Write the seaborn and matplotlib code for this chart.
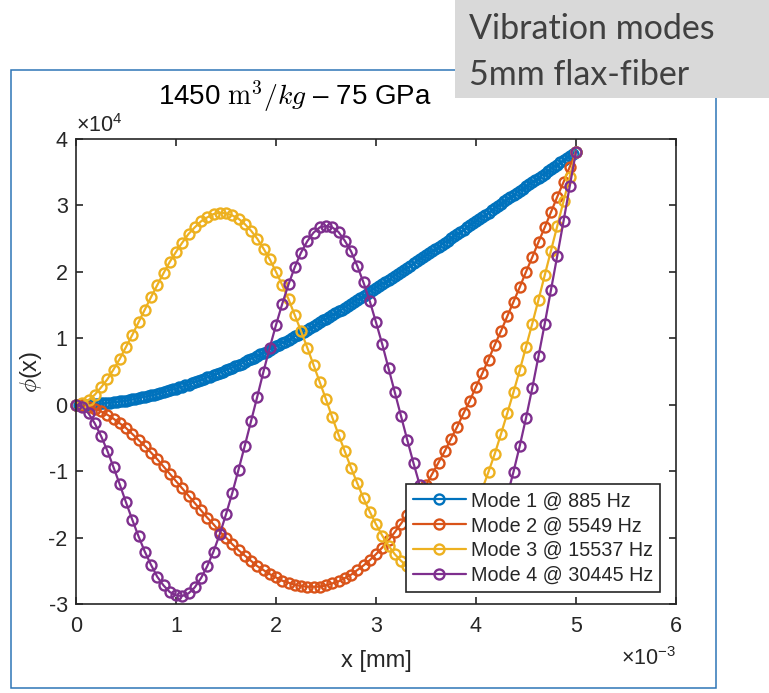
import matplotlib
matplotlib.use("Agg")
import matplotlib.pyplot as plt
from matplotlib.patches import Rectangle
import numpy as np
import pandas as pd
import seaborn as sns

# Sample positions along the fibre [mm] (modes 2-4)
x_mm = [0.0, 0.0625, 0.125, 0.1875, 0.25, 0.3125, 0.375, 0.4375, 0.5, 0.5625,
        0.625, 0.6875, 0.75, 0.8125, 0.875, 0.9375, 1.0, 1.0625, 1.125, 1.1875,
        1.25, 1.3125, 1.375, 1.4375, 1.5, 1.5625, 1.625, 1.6875, 1.75, 1.8125,
        1.875, 1.9375, 2.0, 2.0625, 2.125, 2.1875, 2.25, 2.3125, 2.375, 2.4375,
        2.5, 2.5625, 2.625, 2.6875, 2.75, 2.8125, 2.875, 2.9375, 3.0, 3.0625,
        3.125, 3.1875, 3.25, 3.3125, 3.375, 3.4375, 3.5, 3.5625, 3.625, 3.6875,
        3.75, 3.8125, 3.875, 3.9375, 4.0, 4.0625, 4.125, 4.1875, 4.25, 4.3125,
        4.375, 4.4375, 4.5, 4.5625, 4.625, 4.6875, 4.75, 4.8125, 4.875, 4.9375,
        5.0]

# Finer sample positions [mm] used for the fundamental mode
x_mm_fine = [
    0.0, 0.03125, 0.0625, 0.09375, 0.125, 0.15625, 0.1875, 0.21875,
    0.25, 0.28125, 0.3125, 0.34375, 0.375, 0.40625, 0.4375, 0.46875,
    0.5, 0.53125, 0.5625, 0.59375, 0.625, 0.65625, 0.6875, 0.71875,
    0.75, 0.78125, 0.8125, 0.84375, 0.875, 0.90625, 0.9375, 0.96875,
    1.0, 1.03125, 1.0625, 1.09375, 1.125, 1.15625, 1.1875, 1.21875,
    1.25, 1.28125, 1.3125, 1.34375, 1.375, 1.40625, 1.4375, 1.46875,
    1.5, 1.53125, 1.5625, 1.59375, 1.625, 1.65625, 1.6875, 1.71875,
    1.75, 1.78125, 1.8125, 1.84375, 1.875, 1.90625, 1.9375, 1.96875,
    2.0, 2.03125, 2.0625, 2.09375, 2.125, 2.15625, 2.1875, 2.21875,
    2.25, 2.28125, 2.3125, 2.34375, 2.375, 2.40625, 2.4375, 2.46875,
    2.5, 2.53125, 2.5625, 2.59375, 2.625, 2.65625, 2.6875, 2.71875,
    2.75, 2.78125, 2.8125, 2.84375, 2.875, 2.90625, 2.9375, 2.96875,
    3.0, 3.03125, 3.0625, 3.09375, 3.125, 3.15625, 3.1875, 3.21875,
    3.25, 3.28125, 3.3125, 3.34375, 3.375, 3.40625, 3.4375, 3.46875,
    3.5, 3.53125, 3.5625, 3.59375, 3.625, 3.65625, 3.6875, 3.71875,
    3.75, 3.78125, 3.8125, 3.84375, 3.875, 3.90625, 3.9375, 3.96875,
    4.0, 4.03125, 4.0625, 4.09375, 4.125, 4.15625, 4.1875, 4.21875,
    4.25, 4.28125, 4.3125, 4.34375, 4.375, 4.40625, 4.4375, 4.46875,
    4.5, 4.53125, 4.5625, 4.59375, 4.625, 4.65625, 4.6875, 4.71875,
    4.75, 4.78125, 4.8125, 4.84375, 4.875, 4.90625, 4.9375, 4.96875,
    5.0]

# Mode shapes phi(x) in units of 1e4
mode1 = [0.00, 0.00, 0.00, 0.00, 0.00, 0.01, 0.01, 0.01, 0.02, 0.02,
         0.03, 0.03, 0.04, 0.04, 0.05, 0.06, 0.06, 0.07, 0.08, 0.09,
         0.10, 0.11, 0.12, 0.13, 0.14, 0.15, 0.16, 0.18, 0.19, 0.20,
         0.22, 0.23, 0.24, 0.26, 0.27, 0.29, 0.30, 0.32, 0.34, 0.35,
         0.37, 0.39, 0.41, 0.42, 0.44, 0.46, 0.48, 0.50, 0.52, 0.54,
         0.56, 0.58, 0.60, 0.62, 0.65, 0.67, 0.69, 0.71, 0.73, 0.76,
         0.78, 0.80, 0.83, 0.85, 0.88, 0.90, 0.93, 0.95, 0.98, 1.00,
         1.03, 1.05, 1.08, 1.10, 1.13, 1.16, 1.18, 1.21, 1.24, 1.27,
         1.29, 1.32, 1.35, 1.38, 1.41, 1.43, 1.46, 1.49, 1.52, 1.55,
         1.58, 1.61, 1.64, 1.67, 1.70, 1.73, 1.76, 1.79, 1.82, 1.85,
         1.88, 1.91, 1.94, 1.97, 2.00, 2.03, 2.06, 2.09, 2.13, 2.16,
         2.19, 2.22, 2.25, 2.28, 2.31, 2.35, 2.38, 2.41, 2.44, 2.47,
         2.51, 2.54, 2.57, 2.60, 2.63, 2.67, 2.70, 2.73, 2.76, 2.80,
         2.83, 2.86, 2.89, 2.93, 2.96, 2.99, 3.02, 3.06, 3.09, 3.12,
         3.16, 3.19, 3.22, 3.25, 3.29, 3.32, 3.35, 3.38, 3.42, 3.45,
         3.48, 3.52, 3.55, 3.58, 3.61, 3.65, 3.68, 3.71, 3.74, 3.78,
         3.81]
mode2 = [0.00, -0.01, -0.03, -0.06, -0.10, -0.15, -0.21, -0.28, -0.35, -0.44,
         -0.53, -0.62, -0.72, -0.82, -0.93, -1.04, -1.15, -1.26, -1.37, -1.48,
         -1.59, -1.70, -1.80, -1.91, -2.00, -2.10, -2.19, -2.27, -2.35, -2.43,
         -2.49, -2.55, -2.60, -2.65, -2.68, -2.71, -2.73, -2.74, -2.74, -2.74,
         -2.72, -2.69, -2.66, -2.61, -2.56, -2.49, -2.42, -2.34, -2.25, -2.15,
         -2.04, -1.92, -1.79, -1.66, -1.51, -1.37, -1.21, -1.04, -0.87, -0.70,
         -0.51, -0.33, -0.13, 0.06, 0.27, 0.47, 0.68, 0.90, 1.11, 1.33,
         1.55, 1.77, 2.00, 2.22, 2.45, 2.67, 2.90, 3.13, 3.35, 3.58,
         3.81]
mode3 = [0.00, 0.02, 0.07, 0.15, 0.26, 0.38, 0.53, 0.69, 0.87, 1.05,
         1.24, 1.43, 1.62, 1.80, 1.98, 2.15, 2.30, 2.44, 2.57, 2.67,
         2.76, 2.82, 2.87, 2.89, 2.88, 2.85, 2.80, 2.72, 2.62, 2.50,
         2.35, 2.19, 2.00, 1.80, 1.59, 1.35, 1.11, 0.86, 0.60, 0.34,
         0.08, -0.19, -0.45, -0.70, -0.95, -1.18, -1.41, -1.61, -1.80, -1.97,
         -2.12, -2.25, -2.35, -2.43, -2.48, -2.51, -2.50, -2.47, -2.42, -2.33,
         -2.22, -2.08, -1.91, -1.72, -1.51, -1.27, -1.01, -0.74, -0.44, -0.13,
         0.19, 0.52, 0.87, 1.22, 1.58, 1.95, 2.32, 2.69, 3.06, 3.43,
         3.81]
mode4 = [0.00, -0.03, -0.13, -0.28, -0.47, -0.69, -0.94, -1.20, -1.47, -1.73,
         -1.98, -2.21, -2.41, -2.59, -2.72, -2.82, -2.87, -2.88, -2.84, -2.75,
         -2.61, -2.43, -2.21, -1.95, -1.65, -1.33, -0.98, -0.62, -0.25, 0.12,
         0.50, 0.86, 1.20, 1.52, 1.81, 2.07, 2.29, 2.46, 2.59, 2.67,
         2.69, 2.67, 2.60, 2.47, 2.31, 2.09, 1.84, 1.56, 1.24, 0.91,
         0.55, 0.19, -0.17, -0.53, -0.88, -1.21, -1.51, -1.79, -2.02, -2.22,
         -2.37, -2.47, -2.52, -2.51, -2.45, -2.34, -2.17, -1.95, -1.68, -1.37,
         -1.01, -0.62, -0.20, 0.25, 0.73, 1.22, 1.73, 2.24, 2.76, 3.29,
         3.81]

mode_labels = ["Mode 1 @ 885 Hz", "Mode 2 @ 5549 Hz",
               "Mode 3 @ 15537 Hz", "Mode 4 @ 30445 Hz"]
mode_colors = ["#0072BD", "#D95319", "#EDB120", "#7E2F8E"]
x_ticks = [0, 1, 2, 3, 4, 5, 6]
y_ticks = [-3, -2, -1, 0, 1, 2, 3, 4]

sns.set_theme(style="ticks")
plt.rcParams["font.family"] = ["Liberation Sans", "DejaVu Sans"]
plt.rcParams["mathtext.fontset"] = "cm"

frames = []
for label, xs, vals in zip(mode_labels,
                           [x_mm_fine, x_mm, x_mm, x_mm],
                           [mode1, mode2, mode3, mode4]):
    frames.append(pd.DataFrame({
        "x": np.asarray(xs) * 1e-3,
        "phi": np.asarray(vals) * 1e4,
        "mode": label,
    }))
df = pd.concat(frames, ignore_index=True)

fig = plt.figure(figsize=(7.69, 6.93), dpi=100)
fig.patch.set_facecolor("white")

# slide-style outer frame
fig.add_artist(Rectangle((11 / 769, 1 - 688 / 693), 705 / 769, 618 / 693,
                         transform=fig.transFigure, fill=False,
                         edgecolor="#2E75B6", linewidth=1.1, zorder=0))

ax = fig.add_axes([76 / 769, 1 - 604 / 693, 600 / 769, 465 / 693])

sns.lineplot(data=df, x="x", y="phi", hue="mode", hue_order=mode_labels,
             palette=mode_colors, estimator=None, sort=False, legend=False,
             marker="o", markersize=7.2, markerfacecolor="none",
             markeredgecolor=None, markeredgewidth=1.7, linewidth=1.6,
             ax=ax)
for line in ax.lines:
    line.set_markeredgecolor(line.get_color())
    line.set_markerfacecolor("none")
    line.set_clip_on(False)

ax.set_xlim(0, 6e-3)
ax.set_ylim(-3e4, 4e4)
ax.set_xticks([v * 1e-3 for v in x_ticks])
ax.set_xticklabels([str(v) for v in x_ticks])
ax.set_yticks([v * 1e4 for v in y_ticks])
ax.set_yticklabels([str(v) for v in y_ticks])
ax.tick_params(direction="in", top=True, right=True, length=5, width=1.2,
               colors="#262626", labelsize=15.5)
ax.tick_params(axis="x", pad=9)
ax.tick_params(axis="y", pad=6)
for sp in ax.spines.values():
    sp.set_visible(True)
    sp.set_color("#262626")
    sp.set_linewidth(1.2)

ax.set_xlabel("x [mm]", fontsize=17, color="#262626")
ax.xaxis.set_label_coords(0.5, (604 - 661) / 465)
ax.xaxis.label.set_va("center")
ax.set_ylabel(r"$\phi$(x)", fontsize=17, color="#262626", math_fontfamily="cm")
ax.yaxis.set_label_coords((31 - 76) / 600, 0.5)
ax.yaxis.label.set_va("center")

# exponent labels
ax.text(0.0, 1.0 + (139 - 126) / 465, r"$\mathregular{\times10^{4}}$",
        transform=ax.transAxes, ha="left", va="center", fontsize=15.5,
        color="#262626", math_fontfamily="dejavusans")
ax.text(1.0, (604 - 659) / 465, r"$\mathregular{\times10^{-3}}$",
        transform=ax.transAxes, ha="right", va="center", fontsize=15.5,
        color="#262626", math_fontfamily="dejavusans")

leg = ax.legend(handles=ax.lines[:4], labels=mode_labels, loc="lower right",
                bbox_to_anchor=((660 - 76) / 600, (604 - 592) / 465),
                borderaxespad=0, frameon=True, fancybox=False, framealpha=1,
                edgecolor="#262626", fontsize=14.2, handlelength=2.7,
                handletextpad=0.25, labelspacing=0.3, borderpad=0.35)
leg.get_frame().set_linewidth(1.2)

# title
fig.text(158 / 769, 1 - 105 / 693, r"1450 $\mathrm{m}^3/kg$ – 75 GPa",
         ha="left", va="baseline", fontsize=20, color="black",
         math_fontfamily="cm")

# caption box
fig.add_artist(Rectangle((455 / 769, 1 - 98 / 693), (769 - 455) / 769, 98 / 693,
                         transform=fig.transFigure, facecolor="#D9D9D9",
                         edgecolor="none", zorder=5))
fig.text(469 / 769, 1 - 39 / 693, "Vibration modes", ha="left", va="baseline",
         fontsize=24.5, color="#404040", family=["Lato", "DejaVu Sans"], zorder=6)
fig.text(469 / 769, 1 - 85 / 693, "5mm flax-fiber", ha="left", va="baseline",
         fontsize=24.5, color="#404040", family=["Lato", "DejaVu Sans"], zorder=6)

fig.savefig("out.png", dpi=100)
